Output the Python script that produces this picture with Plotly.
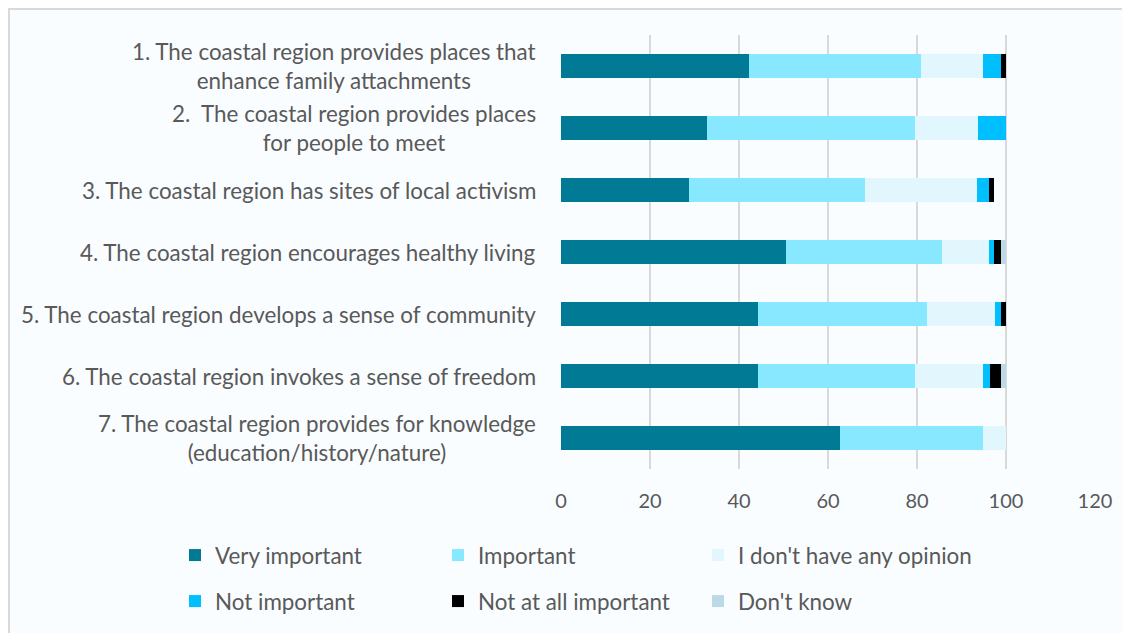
import plotly.graph_objects as go

categories = [
    "1. The coastal region provides places that<br>enhance family attachments",
    "2.  The coastal region provides places<br>for people to meet",
    "3. The coastal region has sites of local activism",
    "4. The coastal region encourages healthy living",
    "5. The coastal region develops a sense of community",
    "6. The coastal region invokes a sense of freedom",
    "7. The coastal region provides for knowledge<br>(education/history/nature)",
]
series_names = ["Very important", "Important", "I don't have any opinion",
                "Not important", "Not at all important", "Don't know"]
very_important = [42.2, 32.8, 28.7, 50.5, 44.2, 44.2, 62.7]
important = [38.6, 46.8, 39.7, 35.2, 38.1, 35.4, 32.2]
no_opinion = [14.1, 14.1, 25.0, 10.4, 15.3, 15.3, 5.1]
not_important = [3.9, 6.3, 2.7, 1.3, 1.3, 1.4, 0]
not_at_all = [1.2, 0, 1.2, 1.4, 1.1, 2.5, 0]
dont_know = [0, 0, 0, 1.2, 0, 1.2, 0]
x_ticks = [0, 20, 40, 60, 80, 100, 120]

values = [very_important, important, no_opinion, not_important, not_at_all, dont_know]
colors = ["#007A95", "#87E8FF", "#E1F6FD", "#00BFFF", "#000000", "#BCDAE6"]

FONT = "Lato"
TXT = "#595959"

# page is rendered with an 8px body margin
O = 8
W, H = 1130 - O, 633 - O
L, T = 561 - O, 35 - O
R = W - (1095 - O)
B = H - (469 - O)
PW, PH = W - L - R, H - T - B

legend_ids = ["legend", "legend2", "legend3", "legend4", "legend5", "legend6"]
leg_cols = [167, 430, 690]   # legend x (figure px) for the 3 columns
leg_rows = [526, 572]        # legend top (figure px) for the 2 rows

fig = go.Figure()
for i, (name, vals, col) in enumerate(zip(series_names, values, colors)):
    fig.add_trace(go.Bar(
        y=categories, x=vals, name=name, orientation="h",
        marker=dict(color=col, line=dict(width=0)),
        legend=legend_ids[i],
        width=0.4,
    ))

for c in categories:
    fig.add_annotation(x=0, xref="paper", y=c, yref="y", text=c,
                       showarrow=False, xanchor="right", yanchor="middle",
                       align="center", xshift=-23,
                       font=dict(family=FONT, size=22.4, color=TXT))

# Outer chart frame
fig.add_shape(type="rect", xref="paper", yref="paper",
              x0=(1 - L) / PW, x1=(W + 10 - L) / PW,
              y0=-(B + 10) / PH, y1=(H - 1 - B) / PH,
              line=dict(color="#D9D9D9", width=2), fillcolor="#F9FDFF",
              layer="below")

legends = {}
for i, lid in enumerate(legend_ids):
    legends[lid] = dict(orientation="v", xref="container", yref="container",
                        x=leg_cols[i % 3] / W, y=1 - leg_rows[i // 3] / H,
                        xanchor="left", yanchor="top",
                        bgcolor="rgba(0,0,0,0)",
                        font=dict(family=FONT, size=22.4, color=TXT))

fig.update_layout(
    width=W, height=H,
    margin=dict(l=L, r=R, t=T, b=B, autoexpand=False),
    barmode="stack",
    paper_bgcolor="white",
    plot_bgcolor="rgba(0,0,0,0)",
    font=dict(family=FONT, size=20, color=TXT),
    xaxis=dict(range=[0, 120], tickvals=x_ticks, showgrid=True,
               gridcolor="#D9D9D9", gridwidth=2, zeroline=False,
               showline=False, ticks="", ticklabelstandoff=18,
               tickfont=dict(family=FONT, size=20, color=TXT)),
    yaxis=dict(categoryorder="array", categoryarray=categories,
               autorange="reversed", showticklabels=False, showgrid=False,
               zeroline=False, showline=False, ticks=""),
    showlegend=True,
    **legends,
)

fig.write_html("out.html")
